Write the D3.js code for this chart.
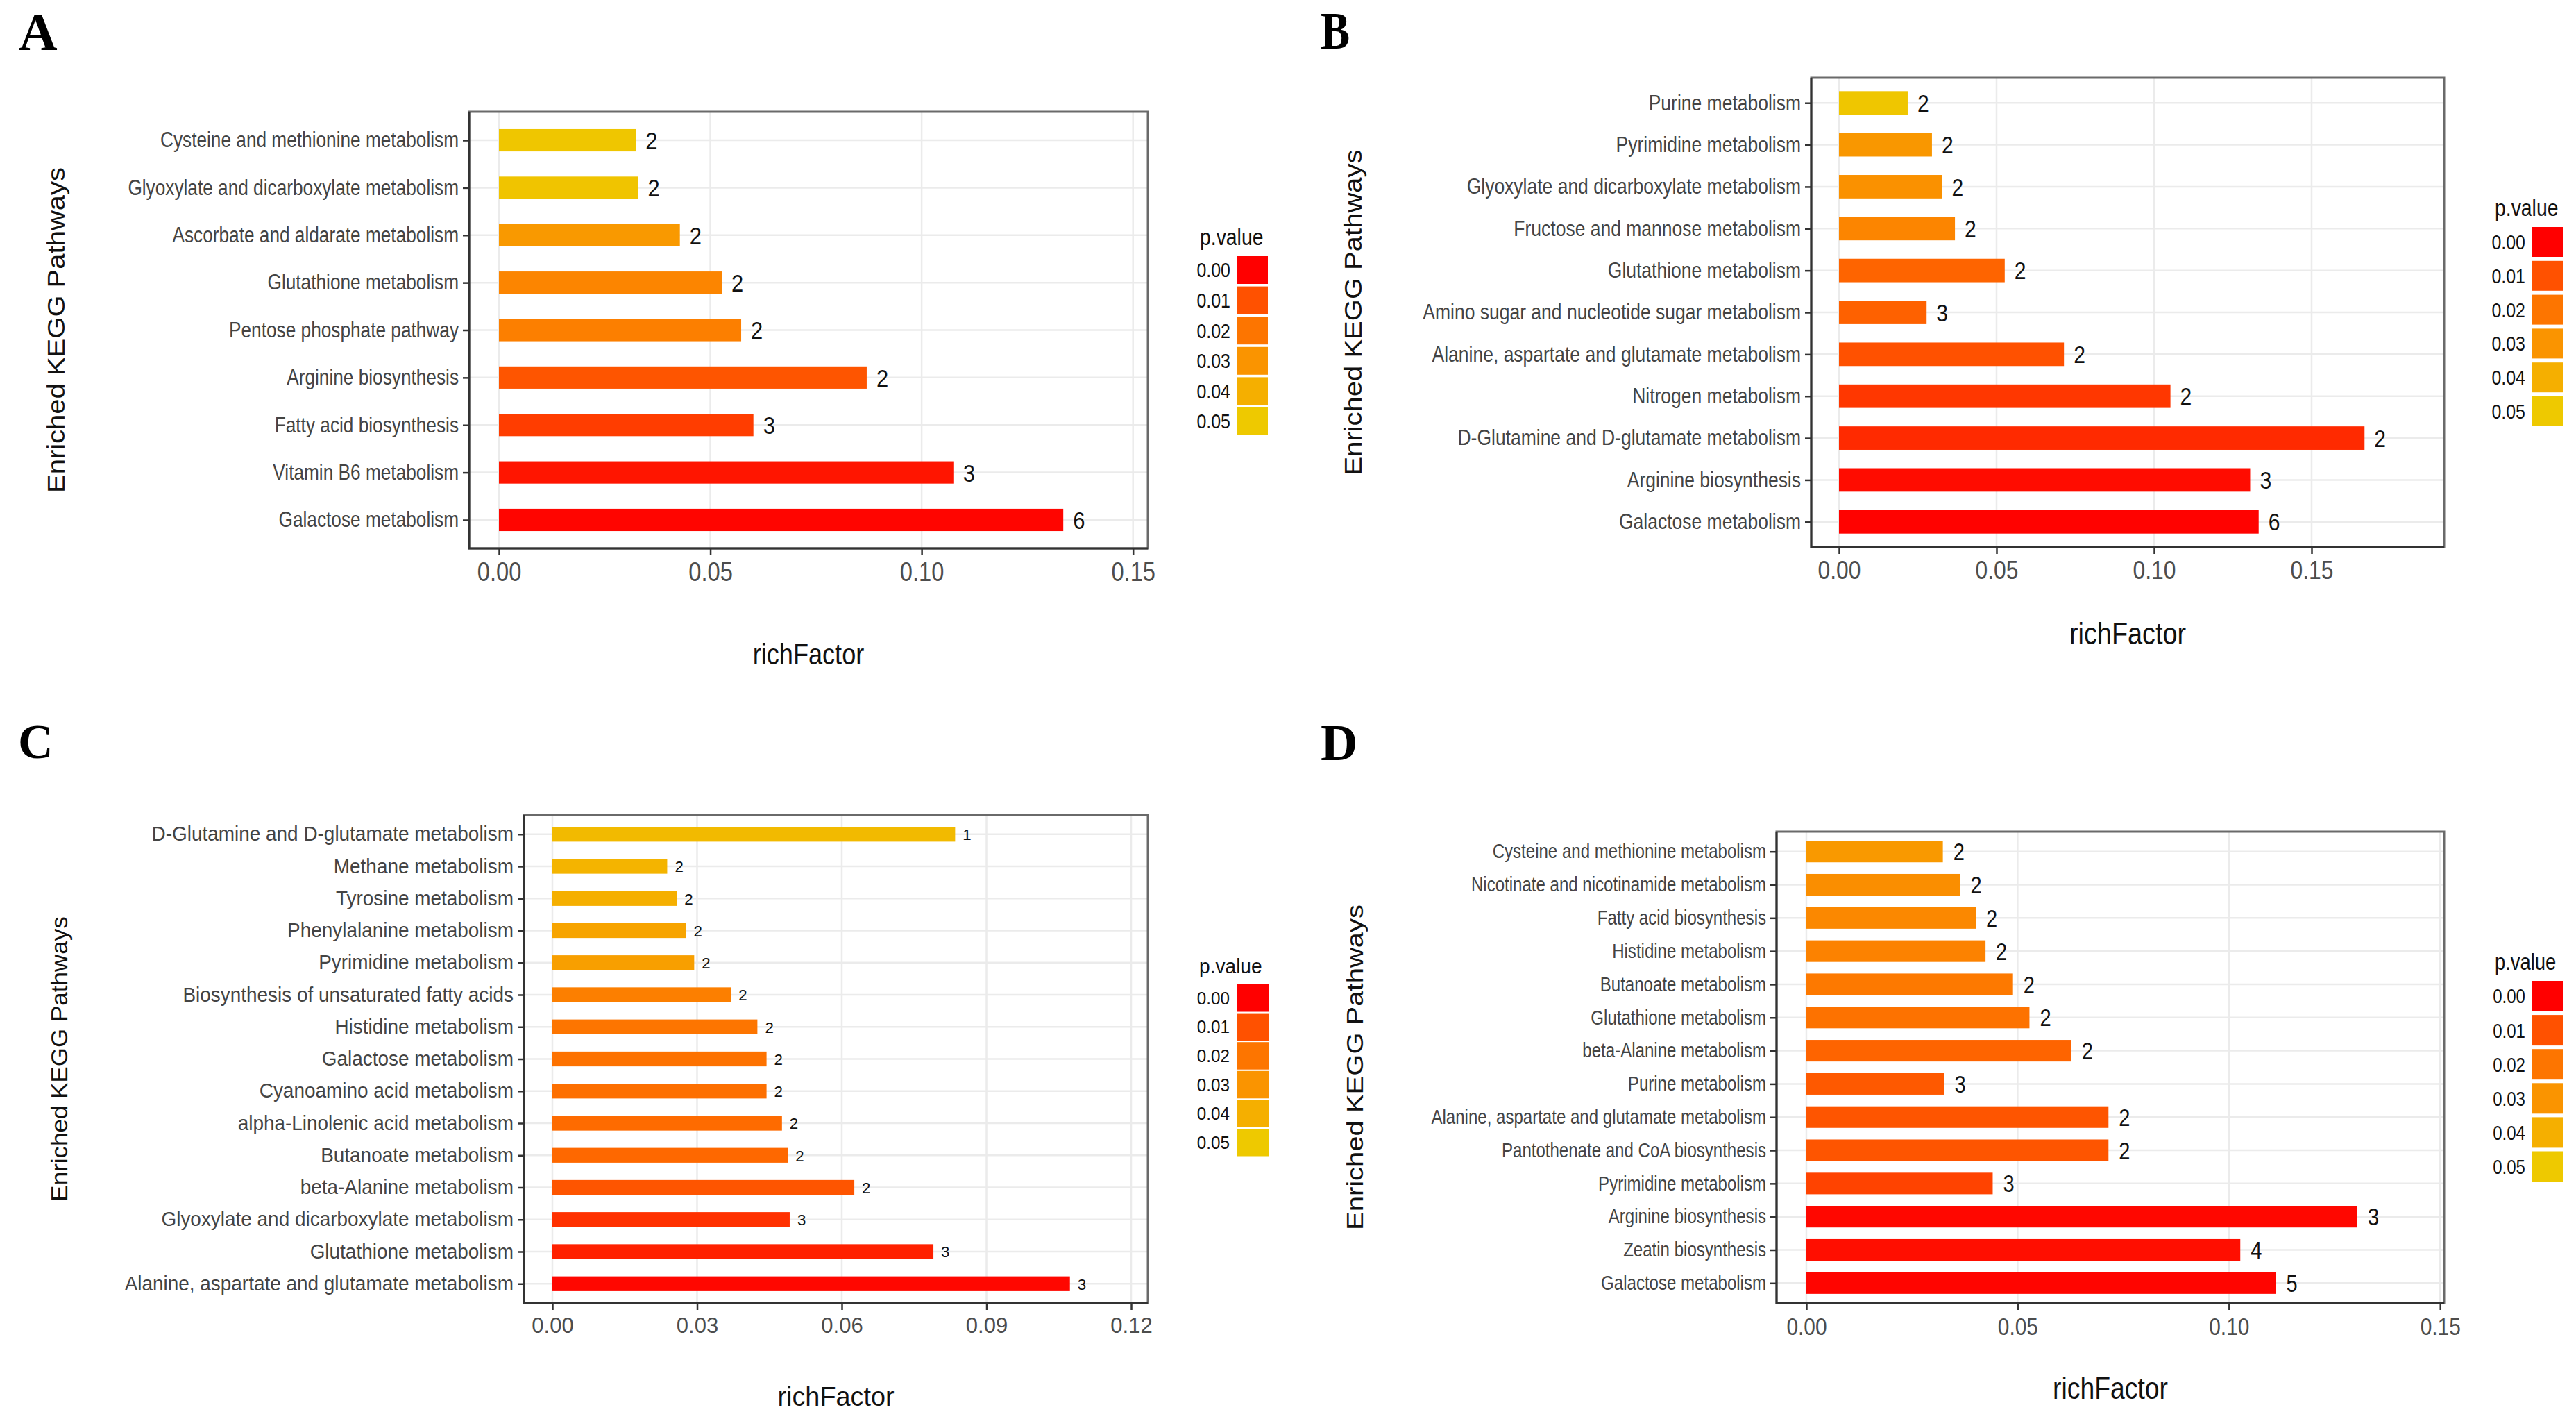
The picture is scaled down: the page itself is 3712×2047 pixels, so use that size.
<!DOCTYPE html>
<html>
<head>
<meta charset="utf-8">
<script src="https://cdn.jsdelivr.net/npm/d3@7/dist/d3.min.js"></script>
<style>
  body { margin: 0; background: #fff; }
</style>
</head>
<body>
<script>

// ---- data (top to bottom, as shown) ----

var pathwaysA = ["Cysteine and methionine metabolism", "Glyoxylate and dicarboxylate metabolism",
  "Ascorbate and aldarate metabolism", "Glutathione metabolism", "Pentose phosphate pathway",
  "Arginine biosynthesis", "Fatty acid biosynthesis", "Vitamin B6 metabolism", "Galactose metabolism"];
var richA  = [0.0324, 0.0329, 0.0428, 0.0527, 0.0573, 0.0870, 0.0602, 0.1075, 0.1335];
var countA = [2, 2, 2, 2, 2, 2, 3, 3, 6];
var pvalA  = [0.049, 0.048, 0.032, 0.025, 0.023, 0.011, 0.006, 0.001, 0.0002];

var pathwaysB = ["Purine metabolism", "Pyrimidine metabolism", "Glyoxylate and dicarboxylate metabolism",
  "Fructose and mannose metabolism", "Glutathione metabolism", "Amino sugar and nucleotide sugar metabolism",
  "Alanine, aspartate and glutamate metabolism", "Nitrogen metabolism",
  "D-Glutamine and D-glutamate metabolism", "Arginine biosynthesis", "Galactose metabolism"];
var richB  = [0.0218, 0.0295, 0.0327, 0.0368, 0.0526, 0.0278, 0.0714, 0.1052, 0.1668, 0.1305, 0.1332];
var countB = [2, 2, 2, 2, 2, 3, 2, 2, 2, 3, 6];
var pvalB  = [0.049, 0.031, 0.029, 0.025, 0.015, 0.014, 0.010, 0.005, 0.003, 0.0005, 0.0001];

var pathwaysC = ["D-Glutamine and D-glutamate metabolism", "Methane metabolism", "Tyrosine metabolism",
  "Phenylalanine metabolism", "Pyrimidine metabolism", "Biosynthesis of unsaturated fatty acids",
  "Histidine metabolism", "Galactose metabolism", "Cyanoamino acid metabolism",
  "alpha-Linolenic acid metabolism", "Butanoate metabolism", "beta-Alanine metabolism",
  "Glyoxylate and dicarboxylate metabolism", "Glutathione metabolism",
  "Alanine, aspartate and glutamate metabolism"];
var richC  = [0.0835, 0.0238, 0.0258, 0.0277, 0.0294, 0.0370, 0.0425, 0.0444, 0.0444, 0.0476, 0.0488,
  0.0626, 0.0492, 0.0790, 0.1073];
var countC = [1, 2, 2, 2, 2, 2, 2, 2, 2, 2, 2, 2, 3, 3, 3];
var pvalC  = [0.044, 0.042, 0.040, 0.036, 0.034, 0.023, 0.020, 0.019, 0.018, 0.017, 0.016, 0.011,
  0.004, 0.002, 0.0003];

var pathwaysD = ["Cysteine and methionine metabolism", "Nicotinate and nicotinamide metabolism",
  "Fatty acid biosynthesis", "Histidine metabolism", "Butanoate metabolism", "Glutathione metabolism",
  "beta-Alanine metabolism", "Purine metabolism", "Alanine, aspartate and glutamate metabolism",
  "Pantothenate and CoA biosynthesis", "Pyrimidine metabolism", "Arginine biosynthesis",
  "Zeatin biosynthesis", "Galactose metabolism"];
var richD  = [0.0323, 0.0364, 0.0401, 0.0424, 0.0489, 0.0528, 0.0627, 0.0326, 0.0715, 0.0715, 0.0441,
  0.1304, 0.1027, 0.1111];
var countD = [2, 2, 2, 2, 2, 2, 2, 3, 2, 2, 3, 3, 4, 5];
var pvalD  = [0.032, 0.028, 0.026, 0.024, 0.021, 0.019, 0.015, 0.012, 0.011, 0.011, 0.007, 0.0003,
  0.0006, 0.0002];

var ticksA = [0, 0.05, 0.10, 0.15];
var ticksB = [0, 0.05, 0.10, 0.15];
var ticksC = [0, 0.03, 0.06, 0.09, 0.12];
var ticksD = [0, 0.05, 0.10, 0.15];

var legendValues = [0, 0.01, 0.02, 0.03, 0.04, 0.05];
var legendLabels = ["0.00", "0.01", "0.02", "0.03", "0.04", "0.05"];


var SANS  = "'Liberation Sans', Arial, Helvetica, sans-serif",
    SERIF = "'Liberation Serif', 'Times New Roman', serif";


var svg = d3.select("body")
  .append("svg")
    .attr("width", 3712)
    .attr("height", 2047)
    .style("display", "block");

svg.append("rect")
  .attr("width", 3712)
  .attr("height", 2047)
  .attr("fill", "#fff");


// p.value colour ramp, red -> gold (Lab, like ggplot's gradient)
var color = d3.scaleLinear()
  .domain([0, 0.05])
  .range(["#FF0000", "#EEC900"])
  .interpolate(d3.interpolateLab)
  .clamp(true);


function squeezed(sel, x, y, sx) {
  return sel.attr("transform", "translate(" + x + "," + y + ") scale(" + sx + ",1)");
}


function drawPanel(p) {

  var g = svg.append("g");

  var x = d3.scaleLinear().domain(p.xDomain).range([p.l, p.r]);
  var y = d3.scalePoint().domain(p.cats).range([p.t, p.b]).padding(0.6);
  var step = y.step(),
      bh = step * p.barW;

  // grid
  g.append("g").selectAll("line")
    .data(p.ticks)
    .join("line")
      .attr("x1", function(d) { return x(d); })
      .attr("x2", function(d) { return x(d); })
      .attr("y1", p.t)
      .attr("y2", p.b)
      .attr("stroke", "#EBEBEB")
      .attr("stroke-width", 2.5);

  g.append("g").selectAll("line")
    .data(p.cats)
    .join("line")
      .attr("x1", p.l)
      .attr("x2", p.r)
      .attr("y1", function(d) { return y(d); })
      .attr("y2", function(d) { return y(d); })
      .attr("stroke", "#EBEBEB")
      .attr("stroke-width", 2.5);

  // bars
  g.append("g").selectAll("rect")
    .data(p.cats)
    .join("rect")
      .attr("x", x(0))
      .attr("y", function(d) { return y(d) - bh / 2; })
      .attr("width", function(d, i) { return x(p.rich[i]) - x(0); })
      .attr("height", bh)
      .attr("fill", function(d, i) { return color(p.pval[i]); });

  // gene counts
  g.append("g").selectAll("text")
    .data(p.cats)
    .join("text")
      .attr("transform", function(d, i) {
        return "translate(" + (x(p.rich[i]) + p.valueGap) + "," + y(d) + ") scale(" + p.sx + ",1)";
      })
      .attr("dy", "0.36em")
      .attr("font-family", SANS)
      .attr("font-size", p.valueSize)
      .attr("fill", "#111")
      .text(function(d, i) { return p.count[i]; });

  // panel border
  g.append("rect")
    .attr("x", p.l)
    .attr("y", p.t)
    .attr("width", p.r - p.l)
    .attr("height", p.b - p.t)
    .attr("fill", "none")
    .attr("stroke", "#6a6a6a")
    .attr("stroke-width", 3);

  g.append("path")
    .attr("d", "M" + p.l + "," + p.t + "V" + p.b + "H" + p.r)
    .attr("fill", "none")
    .attr("stroke", "#333")
    .attr("stroke-width", 3);

  // axes
  var ax = g.append("g")
    .attr("transform", "translate(0," + p.b + ")")
    .call(d3.axisBottom(x).tickValues(p.ticks).tickFormat(d3.format(".2f")).tickSize(10).tickPadding(10));

  ax.select(".domain").remove();
  ax.selectAll("line").attr("stroke", "#333").attr("stroke-width", 2.5);
  ax.selectAll("text")
    .attr("font-family", SANS)
    .attr("font-size", p.tickSize)
    .attr("fill", "#4D4D4D")
    .attr("transform", "scale(" + p.sx + ",1)");

  var ay = g.append("g")
    .attr("transform", "translate(" + p.l + ",0)")
    .call(d3.axisLeft(y).tickSize(9).tickPadding(6));

  ay.select(".domain").remove();
  ay.selectAll("line").attr("stroke", "#333").attr("stroke-width", 2.5);
  ay.selectAll("text")
    .attr("font-family", SANS)
    .attr("font-size", p.labelSize)
    .attr("fill", "#444")
    .attr("x", -15 / p.sx)
    .attr("transform", "scale(" + p.sx + ",1)");

  // axis titles
  g.append("text")
    .attr("transform", "translate(" + p.ytX + "," + ((p.t + p.b) / 2) + ") scale(" + p.sx + ",1) rotate(-90)")
    .attr("text-anchor", "middle")
    .attr("font-family", SANS)
    .attr("font-size", p.ytSize)
    .attr("fill", "#111")
    .text("Enriched KEGG Pathways");

  squeezed(g.append("text"), (p.l + p.r) / 2, p.xtY, p.sx)
    .attr("text-anchor", "middle")
    .attr("font-family", SANS)
    .attr("font-size", p.xtSize)
    .attr("fill", "#111")
    .text("richFactor");

  // legend
  var leg = g.append("g");

  squeezed(leg.append("text"), p.legX - 54, p.legY - 16, p.sx)
    .attr("font-family", SANS)
    .attr("font-size", p.legTitleSize)
    .attr("fill", "#111")
    .text("p.value");

  leg.selectAll("rect")
    .data(legendValues)
    .join("rect")
      .attr("x", p.legX)
      .attr("y", function(d, i) { return p.legY + i * p.legPitch; })
      .attr("width", p.legW)
      .attr("height", p.legH)
      .attr("fill", function(d) { return color(d); });

  leg.selectAll("text.lab")
    .data(legendLabels)
    .join("text")
      .attr("class", "lab")
      .attr("transform", function(d, i) {
        return "translate(" + (p.legX - 10) + "," + (p.legY + i * p.legPitch + p.legH / 2) + ") scale(" + p.sx + ",1)";
      })
      .attr("dy", "0.36em")
      .attr("text-anchor", "end")
      .attr("font-family", SANS)
      .attr("font-size", p.legTextSize)
      .attr("fill", "#111")
      .text(function(d) { return d; });

  // panel letter
  squeezed(g.append("text"), p.letterX, p.letterY, p.letterSx)
    .attr("font-family", SERIF)
    .attr("font-weight", "bold")
    .attr("font-size", p.letterSize)
    .attr("fill", "#000")
    .text(p.letter);
}


drawPanel({
  cats: pathwaysA, rich: richA, count: countA, pval: pvalA, ticks: ticksA,
  l: 676, r: 1654, t: 161, b: 790, xDomain: [-0.00706, 0.1535], barW: 0.47,
  sx: 0.86, labelSize: 30.5, tickSize: 38, valueSize: 36, valueGap: 14,
  ytX: 93, ytSize: 40, xtY: 957, xtSize: 42,
  legX: 1783, legY: 369, legW: 44, legH: 40, legPitch: 43.6, legTextSize: 29, legTitleSize: 33,
  letter: "A", letterX: 27, letterY: 72, letterSize: 77, letterSx: 1
});

drawPanel({
  cats: pathwaysB, rich: richB, count: countB, pval: pvalB, ticks: ticksB,
  l: 2610, r: 3522, t: 112, b: 788, xDomain: [-0.00881, 0.19207], barW: 0.56,
  sx: 0.86, labelSize: 30.8, tickSize: 37, valueSize: 35, valueGap: 14,
  ytX: 1962, ytSize: 40, xtY: 928, xtSize: 44,
  legX: 3649, legY: 327, legW: 44, legH: 43, legPitch: 48.8, legTextSize: 29, legTitleSize: 33,
  letter: "B", letterX: 1903, letterY: 70, letterSize: 77, letterSx: 0.82
});

drawPanel({
  cats: pathwaysC, rich: richC, count: countC, pval: pvalC, ticks: ticksC,
  l: 755, r: 1654, t: 1174, b: 1877, xDomain: [-0.0059, 0.12345], barW: 0.46,
  sx: 0.97, labelSize: 28.8, tickSize: 32, valueSize: 23, valueGap: 11,
  ytX: 97, ytSize: 35, xtY: 2025, xtSize: 39,
  legX: 1782, legY: 1418, legW: 46, legH: 39.5, legPitch: 41.6, legTextSize: 25, legTitleSize: 29,
  letter: "C", letterX: 26, letterY: 1092, letterSize: 70, letterSx: 1
});

drawPanel({
  cats: pathwaysD, rich: richD, count: countD, pval: pvalD, ticks: ticksD,
  l: 2560, r: 3522, t: 1198, b: 1877, xDomain: [-0.00706, 0.15095], barW: 0.65,
  sx: 0.83, labelSize: 29, tickSize: 36, valueSize: 35, valueGap: 15,
  ytX: 1964, ytSize: 40, xtY: 2015, xtSize: 45,
  legX: 3649, legY: 1413, legW: 44, legH: 44, legPitch: 49.1, legTextSize: 29, legTitleSize: 33,
  letter: "D", letterX: 1903, letterY: 1095, letterSize: 74, letterSx: 1
});

</script>
</body>
</html>
